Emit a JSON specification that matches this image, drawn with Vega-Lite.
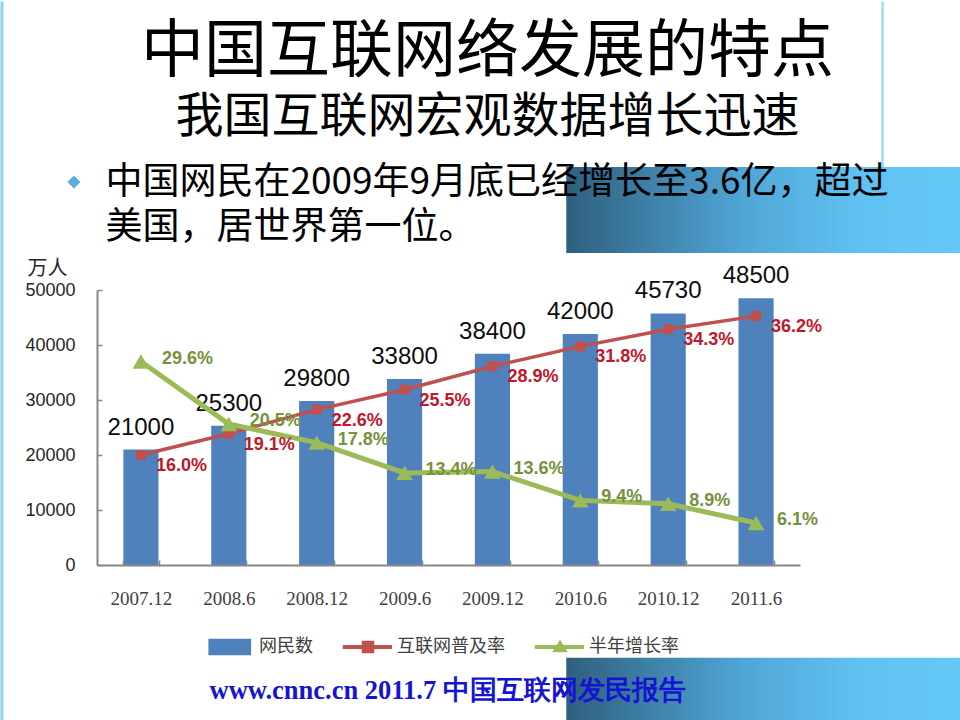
{
  "$schema": "https://vega.github.io/schema/vega-lite/v6.json",
  "width": 703,
  "height": 275,
  "autosize": {"type": "none"},
  "padding": {"left": 97, "top": 290, "right": 160, "bottom": 155},
  "background": "#ffffff",
  "config": {
    "view": {"stroke": null},
    "font": "Liberation Sans",
    "axis": {"labelFont": "Liberation Sans", "labelColor": "#262626", "domainColor": "#868686", "tickColor": "#868686", "domainWidth": 2, "tickWidth": 1.5, "grid": false}
  },
  "title": {
    "text": "中国互联网络发展的特点",
    "subtitle": "我国互联网宏观数据增长迅速",
    "font": "Noto Sans CJK SC",
    "subtitleFont": "Noto Sans CJK SC",
    "fontSize": 63,
    "subtitleFontSize": 48,
    "fontWeight": "normal",
    "subtitleFontWeight": "normal",
    "color": "#000000",
    "subtitleColor": "#000000",
    "anchor": "middle",
    "frame": "group",
    "dx": 39,
    "offset": -142.5,
    "subtitlePadding": 10
  },
  "data": {
    "values": [
      {"period": "2007.12", "users": 21000, "penetration": 0.160, "growth": 0.296},
      {"period": "2008.6", "users": 25300, "penetration": 0.191, "growth": 0.205},
      {"period": "2008.12", "users": 29800, "penetration": 0.226, "growth": 0.178},
      {"period": "2009.6", "users": 33800, "penetration": 0.255, "growth": 0.134},
      {"period": "2009.12", "users": 38400, "penetration": 0.289, "growth": 0.136},
      {"period": "2010.6", "users": 42000, "penetration": 0.318, "growth": 0.094},
      {"period": "2010.12", "users": 45730, "penetration": 0.343, "growth": 0.089},
      {"period": "2011.6", "users": 48500, "penetration": 0.362, "growth": 0.061}
    ]
  },
  "resolve": {"scale": {"y": "independent"}, "axis": {"x": "independent"}},
  "layer": [
    {
      "layer": [
        {
          "mark": {"type": "bar"},
          "encoding": {
            "x": {
              "field": "period", "type": "ordinal", "sort": null,
              "scale": {"domain": ["2007.12", "2008.6", "2008.12", "2009.6", "2009.12", "2010.6", "2010.12", "2011.6"], "paddingInner": 0.6, "paddingOuter": 0.3},
              "axis": {
                "orient": "bottom", "labelAngle": 0, "labelFont": "Liberation Serif", "labelFontSize": 19, "labelColor": "#404040", "labelPadding": 29,
                "tickBand": "extent", "tickSize": -5, "zindex": 1,
                "title": "www.cnnc.cn 2011.7 中国互联网发民报告",
                "titleX": 112, "titleY": 125, "titleAlign": "left", "titleBaseline": "middle",
                "titleFont": "Liberation Serif", "titleFontSize": 26.5, "titleFontWeight": "bold", "titleColor": "#1414d2"
              }
            },
            "y": {
              "field": "users", "type": "quantitative",
              "scale": {"domain": [0, 50000], "nice": false},
              "axis": {
                "orient": "left", "values": [0, 10000, 20000, 30000, 40000, 50000], "format": "d",
                "labelFontSize": 18, "tickSize": -5, "labelPadding": 27,
                "title": "万人", "titleAngle": 0, "titleX": -70, "titleY": -22, "titleAlign": "left", "titleBaseline": "middle",
                "titleFont": "Noto Sans CJK SC", "titleFontSize": 20, "titleFontWeight": "normal", "titleColor": "#262626"
              }
            },
            "color": {
              "datum": "网民数",
              "scale": {"domain": ["网民数", "互联网普及率", "半年增长率"], "range": ["#4f81bd", "#c0504d", "#9bbb59"]},
              "legend": {
                "orient": "none", "legendX": 109, "legendY": 333, "direction": "horizontal", "title": null,
                "labelFont": "Noto Sans CJK SC", "labelFontSize": 18, "labelColor": "#404040", "labelOffset": 5,
                "columnPadding": 29, "symbolSize": 2304, "padding": 0, "symbolStrokeWidth": 0,
                "encode": {
                  "symbols": {
                    "update": {
                      "shape": {"signal": "datum.value === '网民数' ? 'M-0.9,-0.34H0.88V0.34H-0.9Z' : (datum.value === '互联网普及率' ? 'M-1.05,-0.085H1V0.085H-1.05Z M-0.26,-0.26H0.26V0.26H-0.26Z' : 'M-1.05,-0.085H1V0.085H-1.05Z M0,-0.3L0.33,0.22H-0.33Z')"},
                      "fill": {"scale": "color", "field": "value"},
                      "stroke": {"value": "transparent"},
                      "opacity": {"value": 1}
                    }
                  }
                }
              }
            }
          }
        },
        {
          "mark": {"type": "text", "fontSize": 24, "color": "#0d0d0d", "baseline": "alphabetic", "dy": -15, "font": "Liberation Sans"},
          "encoding": {
            "x": {"field": "period", "type": "ordinal", "sort": null},
            "y": {"field": "users", "type": "quantitative"},
            "text": {"field": "users", "type": "quantitative", "format": "d"}
          }
        }
      ]
    },
    {
      "layer": [
        {
          "data": {"values": [{}]},
          "mark": {"type": "rect", "x2Offset": 160, "fill": {"gradient": "linear", "x1": 0, "y1": 0, "x2": 1, "y2": 0, "stops": [{"offset": 0, "color": "#2f5f7e"}, {"offset": 0.45, "color": "#50a6d6"}, {"offset": 0.75, "color": "#60c2f2"}, {"offset": 1, "color": "#64c8f8"}]}},
          "encoding": {
            "x": {"datum": "2010.6", "type": "ordinal", "bandPosition": 0.1, "axis": null},
            "x2": {"value": "width"},
            "y": {"datum": 0.579, "type": "quantitative", "axis": null},
            "y2": {"datum": 0.454}
          }
        },
        {
          "data": {"values": [{}]},
          "mark": {"type": "rect", "x2Offset": 160, "fill": {"gradient": "linear", "x1": 0, "y1": 0, "x2": 1, "y2": 0, "stops": [{"offset": 0, "color": "#2f5f7e"}, {"offset": 0.45, "color": "#50a6d6"}, {"offset": 0.75, "color": "#60c2f2"}, {"offset": 1, "color": "#64c8f8"}]}},
          "encoding": {
            "x": {"datum": "2010.6", "type": "ordinal", "bandPosition": 0.1, "axis": null},
            "x2": {"value": "width"},
            "y": {"datum": -0.135, "type": "quantitative", "axis": null},
            "y2": {"datum": -0.2285}
          }
        },
        {
          "data": {"values": [{}]},
          "mark": {"type": "rule", "color": "#8fd3ef", "strokeWidth": 3, "xOffset": -139},
          "encoding": {
            "x": {"datum": "2007.12", "type": "ordinal", "axis": null},
            "y": {"datum": 0.8197, "type": "quantitative", "axis": null},
            "y2": {"datum": -0.24}
          }
        },
        {
          "data": {"values": [{}]},
          "mark": {"type": "rule", "color": "#8fd3ef", "strokeWidth": 2, "xOffset": 126.5},
          "encoding": {
            "x": {"datum": "2011.6", "type": "ordinal", "axis": null},
            "y": {"datum": 0.8197, "type": "quantitative", "axis": null},
            "y2": {"datum": 0.579}
          }
        },
        {
          "data": {"values": [{}]},
          "mark": {"type": "rule", "color": "#8fd3ef", "strokeWidth": 3, "xOffset": -141, "x2Offset": 160},
          "encoding": {
            "x": {"datum": "2007.12", "type": "ordinal", "axis": null},
            "x2": {"value": "width"},
            "y": {"datum": -0.2305, "type": "quantitative", "axis": null}
          }
        },
        {
          "data": {"values": [{}]},
          "mark": {"type": "point", "shape": "diamond", "filled": true, "size": 170, "color": "#5aace0", "opacity": 1, "xOffset": -67},
          "encoding": {
            "x": {"datum": "2007.12", "type": "ordinal", "axis": null},
            "y": {"datum": 0.557, "type": "quantitative", "axis": null}
          }
        },
        {
          "data": {"values": [{}]},
          "mark": {"type": "text", "align": "left", "baseline": "top", "font": "Noto Sans CJK SC", "fontSize": 37, "lineHeight": 45, "color": "#000000", "xOffset": -35.5},
          "encoding": {
            "x": {"datum": "2007.12", "type": "ordinal", "axis": null},
            "y": {"datum": 0.5818, "type": "quantitative", "axis": null},
            "text": {"value": ["中国网民在2009年9月底已经增长至3.6亿，超过", "美国，居世界第一位。"]}
          }
        },
        {
          "mark": {"type": "line", "strokeWidth": 3.5, "point": {"shape": "square", "size": 100, "filled": true, "opacity": 1}},
          "encoding": {
            "x": {"field": "period", "type": "ordinal", "sort": null, "axis": null},
            "y": {
              "field": "penetration", "type": "quantitative",
              "scale": {"domain": [0, 0.4], "nice": false},
              "axis": {"orient": "right", "values": [0, 0.05, 0.1, 0.15, 0.2, 0.25, 0.3, 0.35, 0.4], "format": ".0%", "labelFontSize": 18, "tickSize": 4, "labelPadding": 15, "title": null}
            },
            "color": {"datum": "互联网普及率"}
          }
        },
        {
          "mark": {"type": "line", "strokeWidth": 5, "point": {"shape": "triangle-up", "size": 280, "filled": true, "opacity": 1}},
          "encoding": {
            "x": {"field": "period", "type": "ordinal", "sort": null, "axis": null},
            "y": {"field": "growth", "type": "quantitative", "axis": null},
            "color": {"datum": "半年增长率"}
          }
        },
        {
          "mark": {"type": "text", "fontSize": 18, "fontWeight": "bold", "color": "#c0182b", "align": "left", "baseline": "middle", "dx": 15, "dy": 11, "font": "Liberation Sans"},
          "encoding": {
            "x": {"field": "period", "type": "ordinal", "sort": null, "axis": null},
            "y": {"field": "penetration", "type": "quantitative", "axis": null},
            "text": {"field": "penetration", "type": "quantitative", "format": ".1%"}
          }
        },
        {
          "mark": {"type": "text", "fontSize": 18, "fontWeight": "bold", "color": "#76923c", "align": "left", "baseline": "middle", "dx": 21, "dy": -3, "font": "Liberation Sans"},
          "encoding": {
            "x": {"field": "period", "type": "ordinal", "sort": null, "axis": null},
            "y": {"field": "growth", "type": "quantitative", "axis": null},
            "text": {"field": "growth", "type": "quantitative", "format": ".1%"}
          }
        }
      ]
    }
  ]
}
